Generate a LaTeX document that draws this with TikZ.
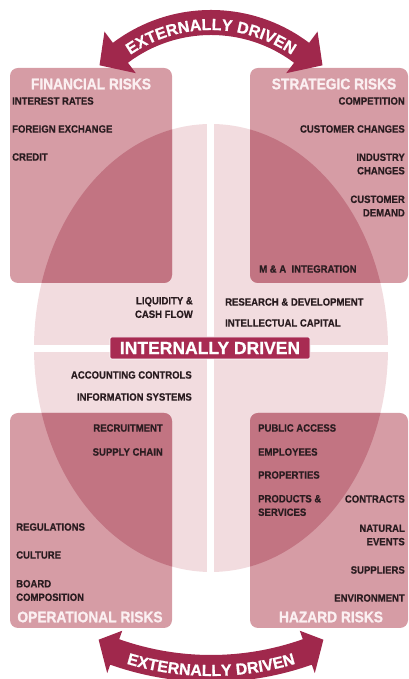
\documentclass[tikz,border=0pt]{standalone}
\usepackage{fontspec}
\setmainfont{Liberation Sans}
\newfontfamily\condfont[FakeStretch=0.9, FakeBold=0.5]{Liberation Sans}
\newfontfamily\heavyfont[FakeStretch=0.9, FakeBold=1.2]{Liberation Sans}
\newfontfamily\wideheavy[FakeBold=0.8]{Liberation Sans}
\usetikzlibrary{decorations.text}
\definecolor{ellcol}{HTML}{F2DCDF}
\definecolor{boxcol}{HTML}{D69CA5}
\definecolor{ovcol}{HTML}{C27482}
\definecolor{lblcol}{HTML}{A82B52}
\definecolor{arccol}{HTML}{A0284C}
\definecolor{itemcol}{HTML}{2A1C20}
\definecolor{titlecol}{HTML}{FBEFF1}
\newcommand\itemfnt{\condfont\bfseries\fontsize{10.6}{13.5}\selectfont}
\newcommand\titlefnt{\heavyfont\bfseries\fontsize{15.3}{17}\selectfont}
\newcommand\lblfnt{\wideheavy\bfseries\fontsize{17.5}{20}\selectfont}
\newcommand\arcfnt{\wideheavy\bfseries\fontsize{16}{18}\selectfont}
\tikzset{
  itm/.style={font=\itemfnt, text=itemcol, inner sep=0pt},
  ttl/.style={font=\titlefnt, text=titlecol, inner sep=0pt},
  riskbox/.style={fill=boxcol, rounded corners=8pt},
  lblbox/.style={fill=lblcol, draw=white, line width=0.6pt, rounded corners=2pt, font=\lblfnt, text=white, minimum width=200pt, minimum height=22pt, inner sep=0pt},
  arcband/.style={fill=arccol},
}
\begin{document}
\begin{tikzpicture}[x=1pt,y=1pt]
\useasboundingbox (0,0) rectangle (409,679);
% central ellipse
\fill[ellcol] (211,331) ellipse[x radius=177, y radius=224];
\fill[white] (207,90) rectangle (214,590);
\fill[white] (20,327) rectangle (400,334);
% boxes
\fill[riskbox] (10,396) rectangle (172,611);
\fill[riskbox] (250,396) rectangle (408,611);
\fill[riskbox] (10,51) rectangle (172,266);
\fill[riskbox] (250,51) rectangle (408,266);
\begin{scope}
  \clip[rounded corners=8pt] (10,396) rectangle (172,611);
  \fill[ovcol] (211,331) ellipse[x radius=177, y radius=224];
\end{scope}
\begin{scope}
  \clip[rounded corners=8pt] (250,396) rectangle (408,611);
  \fill[ovcol] (211,331) ellipse[x radius=177, y radius=224];
\end{scope}
\begin{scope}
  \clip[rounded corners=8pt] (10,51) rectangle (172,266);
  \fill[ovcol] (211,331) ellipse[x radius=177, y radius=224];
\end{scope}
\begin{scope}
  \clip[rounded corners=8pt] (250,51) rectangle (408,266);
  \fill[ovcol] (211,331) ellipse[x radius=177, y radius=224];
\end{scope}
% titles
\node[ttl] (fin) at (91,595) {FINANCIAL RISKS};
\node[ttl] (str) at (334,595) {STRATEGIC RISKS};
\node[ttl] (ope) at (90,62) {OPERATIONAL RISKS};
\node[ttl] (haz) at (331,62) {HAZARD RISKS};
% financial
\node[itm, anchor=west] (f1) at (12,578) {INTEREST RATES};
\node[itm, anchor=west] (f2) at (12,550) {FOREIGN EXCHANGE};
\node[itm, anchor=west] (f3) at (12,522) {CREDIT};
\node[itm, anchor=east, align=right] (f4) at (193,371.5) {LIQUIDITY \&\\CASH FLOW};
% strategic
\node[itm, anchor=east] (s1) at (405,578) {COMPETITION};
\node[itm, anchor=east] (s2) at (405,550) {CUSTOMER CHANGES};
\node[itm, anchor=east, align=right] (s3) at (405,515) {INDUSTRY\\CHANGES};
\node[itm, anchor=east, align=right] (s4) at (405,473) {CUSTOMER\\DEMAND};
\node[itm, anchor=west] (s5) at (259,410) {M \& A~~INTEGRATION};
\node[itm, anchor=west] (s6) at (225,377) {RESEARCH \& DEVELOPMENT};
\node[itm, anchor=west] (s7) at (225,356) {INTELLECTUAL CAPITAL};
% centre label
\node[lblbox] (int) at (210,331) {INTERNALLY DRIVEN};
% operational
\node[itm, anchor=east] (o1) at (192,304) {ACCOUNTING CONTROLS};
\node[itm, anchor=east] (o2) at (192,282) {INFORMATION SYSTEMS};
\node[itm, anchor=east] (o3) at (163,251) {RECRUITMENT};
\node[itm, anchor=east] (o4) at (163,227) {SUPPLY CHAIN};
\node[itm, anchor=west] (o5) at (16,152) {REGULATIONS};
\node[itm, anchor=west] (o6) at (16,124) {CULTURE};
\node[itm, anchor=west, align=left] (o7) at (16,88.5) {BOARD\\COMPOSITION};
% hazard
\node[itm, anchor=west] (h1) at (258,251) {PUBLIC ACCESS};
\node[itm, anchor=west] (h2) at (258,227) {EMPLOYEES};
\node[itm, anchor=west] (h3) at (258,204) {PROPERTIES};
\node[itm, anchor=west, align=left] (h4) at (258,173.5) {PRODUCTS \&\\SERVICES};
\node[itm, anchor=east] (h5) at (405,180) {CONTRACTS};
\node[itm, anchor=east, align=right] (h6) at (405,144) {NATURAL\\EVENTS};
\node[itm, anchor=east] (h7) at (405,109) {SUPPLIERS};
\node[itm, anchor=east] (h8) at (405,81) {ENVIRONMENT};
% top arc arrow
\begin{scope}[shift={(211,506)}]
  \fill[arcband] (127:177) -- (136:155) -- (127:125) -- (127:138)
    arc[start angle=127, end angle=53, radius=138]
    -- (53:125) -- (44:155) -- (53:177) -- (53:163)
    arc[start angle=53, end angle=127, radius=163] -- cycle;
  \path[decorate, decoration={text along path, text={|\arcfnt|EXTERNALLY DRIVEN}, text align=center, text color=white}]
    (130:143) arc[start angle=130, end angle=50, radius=143];
\end{scope}
% bottom arc arrow
\begin{scope}[shift={(211,299)}]
  \fill[arcband] (250.5:311) -- (246.6:283) -- (250.5:266) -- (250.5:275)
    arc[start angle=250.5, end angle=289.5, radius=275]
    -- (289.5:266) -- (293.4:283) -- (289.5:311) -- (289.5:302)
    arc[start angle=289.5, end angle=250.5, radius=302] -- cycle;
  \path[decorate, decoration={text along path, text={|\arcfnt|EXTERNALLY DRIVEN}, text align=center, text color=white}]
    (245:296) arc[start angle=245, end angle=295, radius=296];
\end{scope}
\end{tikzpicture}
\end{document}
